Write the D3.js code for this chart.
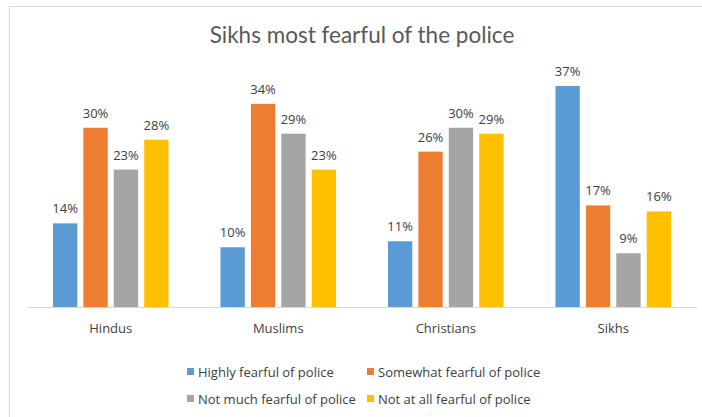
<!DOCTYPE html>
<html><head><meta charset="utf-8">
<script src="https://cdn.jsdelivr.net/npm/d3@7"></script>
<style>body{margin:0;background:#fff;}svg{display:block;font-family:"Open Sans",Lato,sans-serif;}</style>
</head><body>
<svg id="c" width="702" height="417"></svg>
<script>
const categories = ["Hindus", "Muslims", "Christians", "Sikhs"];
const seriesNames = ["Highly fearful of police", "Somewhat fearful of police", "Not much fearful of police", "Not at all fearful of police"];
const highly = [14, 10, 11, 37];
const somewhat = [30, 34, 26, 17];
const notMuch = [23, 29, 30, 9];
const notAtAll = [28, 23, 29, 16];
const colors = ["#5b9bd5", "#ed7d31", "#a5a5a5", "#ffc000"];
const title = "Sikhs most fearful of the police";

const seriesValues = [highly, somewhat, notMuch, notAtAll];
const svg = d3.select("#c");

// outer frame
svg.append("rect").attr("x", 9.5).attr("y", 6.5).attr("width", 720).attr("height", 430)
  .attr("fill", "none").attr("stroke", "#d9d9d9");

svg.append("text").attr("x", 362).attr("y", 43).attr("text-anchor", "middle")
  .attr("font-family", "Lato,sans-serif")
  .attr("font-size", 22.5).attr("fill", "#595959").text(title);

const x0 = d3.scaleBand().domain(categories).range([27, 697]).paddingInner(0.31).paddingOuter(0.155);
const x1 = d3.scaleBand().domain(d3.range(4)).range([0, x0.bandwidth()]).paddingInner(0.2);
const y = d3.scaleLinear().domain([0, 40]).range([307, 68]);

const g = svg.append("g");
categories.forEach((c, ci) => {
  seriesValues.forEach((vals, si) => {
    const v = vals[ci];
    const bx = x0(c) + x1(si);
    g.append("rect").attr("x", bx).attr("y", y(v)).attr("width", x1.bandwidth())
      .attr("height", y(0) - y(v)).attr("fill", colors[si]);
    g.append("text").attr("x", bx + x1.bandwidth() / 2).attr("y", y(v) - 10)
      .attr("text-anchor", "middle").attr("font-size", 13).attr("fill", "#404040")
      .text(v + "%");
  });
});

// axis
const ax = svg.append("g").attr("transform", "translate(0,307)")
  .call(d3.axisBottom(x0).tickSize(0).tickPadding(17));
ax.select(".domain").attr("stroke", "#d9d9d9").attr("d", "M27,0.5H697");
ax.selectAll("text").attr("font-size", 13).attr("fill", "#404040").attr("font-family", "'Open Sans',sans-serif");

// legend
const legPos = [[187, 372], [367, 372], [187, 399], [367, 399]];
seriesNames.forEach((n, i) => {
  const lg = svg.append("g").attr("transform", `translate(${legPos[i][0]},${legPos[i][1]})`);
  lg.append("rect").attr("x", 0).attr("y", -4).attr("width", 7).attr("height", 7).attr("fill", colors[i]);
  lg.append("text").attr("x", 11).attr("y", 4.5).attr("font-size", 13).attr("fill", "#404040").text(n);
});
</script>
</body></html>
